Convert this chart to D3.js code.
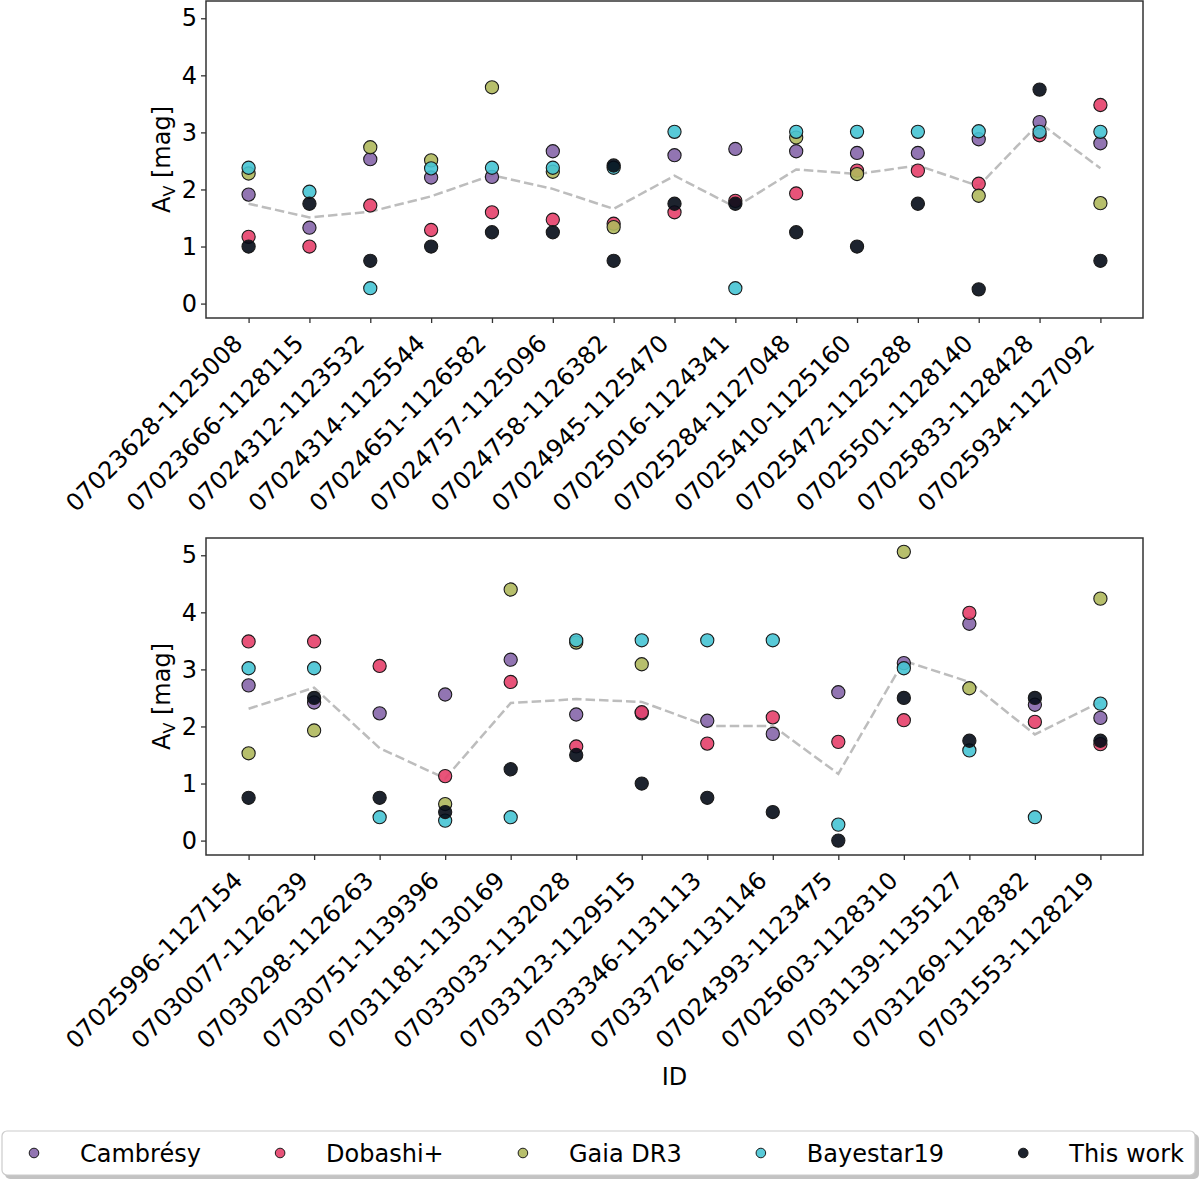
<!DOCTYPE html>
<html>
<head>
<meta charset="utf-8">
<script src="https://cdn.jsdelivr.net/npm/d3@7"></script>
<style>
  body { margin: 0; background: #fff; }
  svg { display: block; font-family: "DejaVu Sans", sans-serif; }
</style>
</head>
<body>
<svg id="chart" width="1200" height="1179"></svg>
<script>
// star IDs
const idsTop = [
  "07023628-1125008", "07023666-1128115", "07024312-1123532", "07024314-1125544",
  "07024651-1126582", "07024757-1125096", "07024758-1126382", "07024945-1125470",
  "07025016-1124341", "07025284-1127048", "07025410-1125160", "07025472-1125288",
  "07025501-1128140", "07025833-1128428", "07025934-1127092"
];
const idsBottom = [
  "07025996-1127154", "07030077-1126239", "07030298-1126263", "07030751-1139396",
  "07031181-1130169", "07033033-1132028", "07033123-1129515", "07033346-1131113",
  "07033726-1131146", "07024393-1123475", "07025603-1128310", "07031139-1135127",
  "07031269-1128382", "07031553-1128219"
];

// A_V per source (null = no value); an entry can hold two values
const cambresyTop = [1.91, 1.33, 2.53, 2.21, 2.22, 2.67, null, 2.60, 2.71, 2.67, 2.64, 2.64, 2.88, 3.18, 2.81];
const dobashiTop  = [1.17, 1.00, 1.72, 1.29, 1.60, 1.47, 1.40, 1.60, 1.80, 1.93, 2.33, 2.33, 2.10, 2.95, 3.48];
const gaiaTop     = [2.28, null, 2.74, 2.51, 3.79, 2.31, 1.34, null, null, 2.91, 2.27, null, 1.89, null, 1.76];
const bayestarTop = [2.38, 1.96, 0.27, 2.37, 2.38, 2.38, 2.38, 3.01, 0.27, 3.01, 3.01, 3.01, 3.02, 3.01, 3.01];
const thisWorkTop = [1.00, 1.75, 0.75, 1.00, 1.25, 1.25, [2.42, 0.75], 1.75, 1.75, 1.25, 1.00, 1.75, 0.25, 3.75, 0.75];
const meanTop     = [1.75, 1.51, 1.61, 1.88, 2.25, 2.01, 1.66, 2.24, 1.69, 2.35, 2.27, 2.42, 2.06, 3.17, 2.37];

const cambresyBottom = [2.72, 2.42, 2.23, 2.56, 3.17, 2.21, 2.23, 2.10, 1.87, 2.60, 3.11, 3.80, 2.38, 2.15];
const dobashiBottom  = [3.49, 3.49, 3.06, 1.13, 2.78, 1.65, 2.25, 1.70, 2.16, 1.73, 2.11, 3.99, 2.08, 1.69];
const gaiaBottom     = [1.53, 1.93, null, 0.64, 4.40, 3.47, 3.09, null, null, null, 5.06, 2.67, null, 4.24];
const bayestarBottom = [3.02, 3.02, 0.41, 0.35, 0.41, 3.51, 3.51, 3.51, 3.51, 0.28, 3.02, 1.58, 0.41, 2.40];
const thisWorkBottom = [0.75, 2.50, 0.75, 0.50, 1.25, 1.50, 1.00, 0.75, 0.50, 0.00, 2.50, 1.75, 2.50, 1.75];
const meanBottom     = [2.31, 2.68, 1.62, 1.09, 2.41, 2.48, 2.43, 2.01, 2.01, 1.17, 3.15, 2.78, 1.86, 2.43];

const sourceNames = ["Cambrésy", "Dobashi+", "Gaia DR3", "Bayestar19", "This work"];
const sourceColors = ["#8666aa", "#e6406a", "#afb85c", "#46c4d4", "#040b17"];
const yTicks = [0, 1, 2, 3, 4, 5];

const svg = d3.select("#chart");
const fontSize = 24;

// shared y range (data 0..5.06 plus 5% margin)
const yDomain = [-0.2525, 5.3025];

function drawPanel(ids, series, meanVals, box, showXLabel) {
  const g = svg.append("g");
  const x = d3.scalePoint()
    .domain(ids)
    .range([box.left, box.right])
    .padding(0.05 * (ids.length - 1));
  const y = d3.scaleLinear().domain(yDomain).range([box.bottom, box.top]);

  // mean line
  const line = d3.line()
    .x((d, i) => x(ids[i]))
    .y((d) => y(d));
  g.append("path")
    .datum(meanVals)
    .attr("d", line)
    .attr("fill", "none")
    .attr("stroke", "#bdbdbd")
    .attr("stroke-width", 2.5)
    .attr("stroke-dasharray", "9.5,4");

  // points
  series.forEach((vals, s) => {
    const pts = [];
    vals.forEach((v, i) => {
      if (v == null) return;
      (Array.isArray(v) ? v : [v]).forEach((vv) => pts.push({ id: ids[i], v: vv }));
    });
    g.append("g")
      .selectAll("circle")
      .data(pts)
      .join("circle")
      .attr("cx", (d) => x(d.id))
      .attr("cy", (d) => y(d.v))
      .attr("r", 6.6)
      .attr("fill", sourceColors[s])
      .attr("fill-opacity", 0.9)
      .attr("stroke", "#1a1a1a")
      .attr("stroke-width", 1.1);
  });

  // x axis
  const xAxis = g.append("g")
    .attr("transform", `translate(0,${box.bottom})`)
    .call(d3.axisBottom(x).tickSize(5).tickSizeOuter(0));
  xAxis.select(".domain").remove();
  xAxis.selectAll(".tick line").attr("stroke", "#333").attr("stroke-width", 1.3);
  xAxis.selectAll(".tick text")
    .attr("x", 0)
    .attr("y", 0)
    .attr("dy", null)
    .attr("fill", "#000")
    .attr("text-anchor", "end")
    .attr("transform", "translate(-5,27) rotate(-45)")
    .style("font-size", fontSize + "px")
    .style("font-family", "DejaVu Sans");

  // y axis
  const yAxis = g.append("g")
    .attr("transform", `translate(${box.left},0)`)
    .call(d3.axisLeft(y).tickValues(yTicks).tickSize(5).tickPadding(4).tickFormat(d3.format("d")));
  yAxis.select(".domain").remove();
  yAxis.selectAll(".tick line").attr("stroke", "#333").attr("stroke-width", 1.3);
  yAxis.selectAll(".tick text")
    .attr("fill", "#000")
    .style("font-size", fontSize + "px")
    .style("font-family", "DejaVu Sans");

  // frame
  g.append("rect")
    .attr("x", box.left)
    .attr("y", box.top)
    .attr("width", box.right - box.left)
    .attr("height", box.bottom - box.top)
    .attr("fill", "none")
    .attr("stroke", "#333")
    .attr("stroke-width", 1.5);

  // y label
  const yl = g.append("text")
    .attr("transform", `translate(170,${(box.top + box.bottom) / 2}) rotate(-90)`)
    .attr("text-anchor", "middle")
    .style("font-size", fontSize + "px");
  yl.append("tspan").text("A");
  yl.append("tspan").attr("dy", 5).style("font-size", "16px").text("V");
  yl.append("tspan").attr("dy", -5).text(" [mag]");

  if (showXLabel) {
    g.append("text")
      .attr("x", (box.left + box.right) / 2)
      .attr("y", 1085)
      .attr("text-anchor", "middle")
      .style("font-size", fontSize + "px")
      .text("ID");
  }
}

drawPanel(idsTop, [cambresyTop, dobashiTop, gaiaTop, bayestarTop, thisWorkTop], meanTop,
  { left: 206, right: 1143, top: 1, bottom: 318 }, false);
drawPanel(idsBottom, [cambresyBottom, dobashiBottom, gaiaBottom, bayestarBottom, thisWorkBottom], meanBottom,
  { left: 206, right: 1143, top: 538, bottom: 855 }, true);

// legend
const legend = svg.append("g");
legend.append("rect")
  .attr("x", 5).attr("y", 1134).attr("width", 1194).attr("height", 45)
  .attr("rx", 5).attr("fill", "#888").attr("opacity", 0.5);
legend.append("rect")
  .attr("x", 2).attr("y", 1131).attr("width", 1193).attr("height", 44)
  .attr("rx", 5).attr("fill", "#fff").attr("stroke", "#ccc").attr("stroke-width", 1.2);

const legendY = 1153;
const items = legend.selectAll("g.item")
  .data(sourceNames)
  .join("g")
  .attr("class", "item");
items.append("circle")
  .attr("r", 4.8)
  .attr("cy", legendY)
  .attr("fill", (d, i) => sourceColors[i])
  .attr("fill-opacity", 0.9)
  .attr("stroke", "#1a1a1a")
  .attr("stroke-width", 1);
items.append("text")
  .attr("y", legendY)
  .attr("dy", "0.36em")
  .style("font-size", fontSize + "px")
  .text((d) => d);

// spread entries across the box
const widths = [];
items.selectAll("text").each(function () { widths.push(this.getComputedTextLength()); });
const firstMarker = 34, lastEnd = 1184, textOffset = 46;
const used = d3.sum(widths) + textOffset * widths.length;
const gap = (lastEnd - firstMarker - used) / (widths.length - 1);
let cx = firstMarker;
items.each(function (d, i) {
  const it = d3.select(this);
  it.select("circle").attr("cx", cx);
  it.select("text").attr("x", cx + textOffset);
  cx += textOffset + widths[i] + gap;
});
</script>
</body>
</html>
